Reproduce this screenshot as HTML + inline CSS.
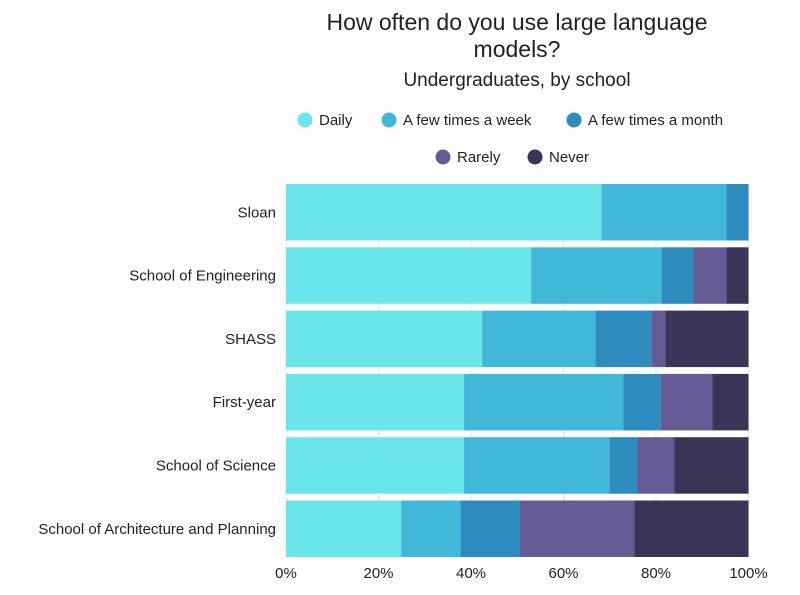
<!DOCTYPE html>
<html><head><meta charset="utf-8"><style>
body{margin:0;background:#fff;width:800px;height:590px;overflow:hidden;font-family:"Liberation Sans",sans-serif;}
</style></head><body>
<svg width="800" height="590" xmlns="http://www.w3.org/2000/svg">
<g id="titles" font-family="'Liberation Sans Narrow','Liberation Sans',sans-serif" fill="#222" text-anchor="middle">
<text x="517" y="30" font-size="23">How often do you use large language</text>
<text x="517" y="57" font-size="23">models?</text>
<text x="517" y="86" font-size="19">Undergraduates, by school</text>
</g>
<g id="legend" font-size="15" fill="#222"></g>
<g id="grid"></g>
<g id="bars"></g>
<g id="ylabels" font-size="15" fill="#222" text-anchor="end"></g>
<g id="xticks" font-size="15" fill="#222" text-anchor="middle"></g>
</svg>
<script>
const categories=["Sloan","School of Engineering","SHASS","First-year","School of Science","School of Architecture and Planning"];
const seriesNames=["Daily","A few times a week","A few times a month","Rarely","Never"];
const daily=[68.2,53,42.4,38.5,38.5,24.9];
const weekly=[27,28.2,24.5,34.4,31.4,12.8];
const monthly=[4.8,6.9,12.1,8.1,6.1,12.9];
const rarely=[0,7.1,3,11.2,8,24.7];
const never=[0,4.8,18,7.8,16,24.7];
const xTicks=[0,20,40,60,80,100];
const xTickLabels=["0%","20%","40%","60%","80%","100%"];
const colors=["#6ae6ea","#42b8d8","#2e8bbd","#655a93","#393556"];
const NS="http://www.w3.org/2000/svg";
const X0=286,X1=748.5,Y0=184,STEP=63.3,BH=56.5;
const xs=v=>X0+(X1-X0)*v/100;
const yb=i=>Y0+i*STEP;
function mk(t,a,p){const e=document.createElementNS(NS,t);for(const k in a)e.setAttribute(k,a[k]);p.appendChild(e);return e;}
const grid=document.getElementById('grid');
xTicks.forEach((t,i)=>{const l=mk('line',{x1:xs(t),x2:xs(t),y1:Y0,y2:yb(5)+BH,stroke:'#e6e6e6','stroke-width':1},grid);


const tx=mk('text',{x:xs(t),y:578},document.getElementById('xticks'));tx.textContent=xTickLabels[i];

});
const series=[daily,weekly,monthly,rarely,never];
const bars=document.getElementById('bars');
categories.forEach((c,i)=>{let acc=0;
series.forEach((s,j)=>{const v=s[i];if(v>0){const r=mk('rect',{x:xs(acc),y:yb(i),width:xs(acc+v)-xs(acc),height:BH,fill:colors[j]},bars);

}acc+=v;});
const t=mk('text',{x:276,y:yb(i)+BH/2+5},document.getElementById('ylabels'));t.textContent=c;

});
const leg=document.getElementById('legend');
const lpos=[[305,120],[389,120],[574,120],[443,157],[535,157]];
seriesNames.forEach((n,j)=>{const g=mk('g',{},leg);


mk('circle',{cx:lpos[j][0],cy:lpos[j][1],r:7.5,fill:colors[j]},g);
const t=mk('text',{x:lpos[j][0]+14,y:lpos[j][1]+5},g);t.textContent=n;});
</script>
</body></html>
